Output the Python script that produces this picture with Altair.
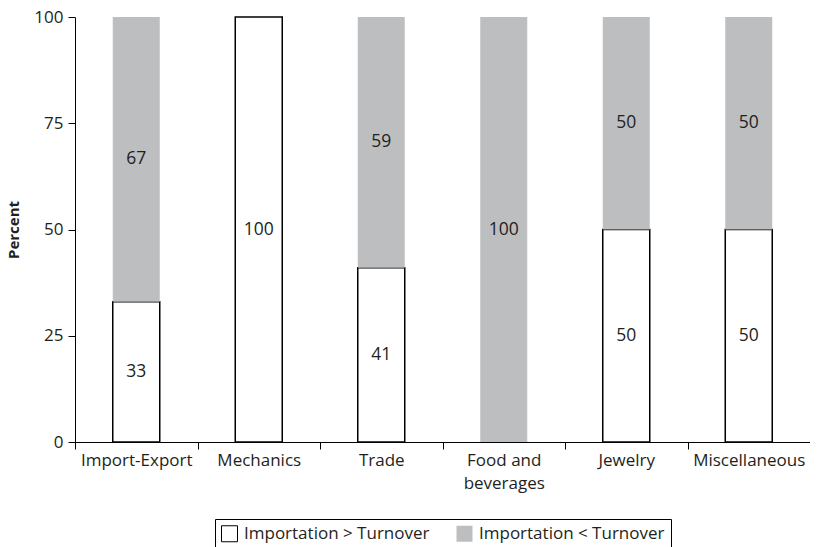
import altair as alt
import pandas as pd

categories = ["Import-Export", "Mechanics", "Trade", "Food and beverages", "Jewelry", "Miscellaneous"]
above = [33, 100, 41, 0, 50, 50]   # Importation > Turnover
below = [67, 0, 59, 100, 50, 50]   # Importation < Turnover
series = ["Importation > Turnover", "Importation < Turnover"]

rows = []
for c, a, b in zip(categories, above, below):
    rows.append({"category": c, "series": series[0], "value": a, "ord": 0})
    rows.append({"category": c, "series": series[1], "value": b, "ord": 1})
df = pd.DataFrame(rows)

FONT = "Open Sans"
TXT = "#231f20"

base = alt.Chart(df).transform_filter("datum.value > 0").transform_stack(
    stack="value", groupby=["category"], as_=["y0", "y1"],
    sort=[alt.SortField("ord", order="ascending")]
).transform_calculate(mid="(datum.y0 + datum.y1) / 2")

xenc = alt.X("category:N", sort=categories, title=None,
             scale=alt.Scale(paddingInner=0, paddingOuter=0),
             axis=alt.Axis(tickBand="extent", labelAngle=0, domainColor="black",
                           tickColor="black", tickSize=7, labelFontSize=17,
                           labelColor=TXT, labelFont=FONT, labelPadding=3,
                           labelLineHeight=23,
                           labelExpr="datum.value == 'Food and beverages' ? ['Food and', 'beverages'] : datum.value"))

bars = base.mark_bar(width=47, strokeWidth=1.5).encode(
    x=xenc,
    y=alt.Y("y0:Q", scale=alt.Scale(domain=[0, 100]), title="Percent",
            axis=alt.Axis(values=[0, 25, 50, 75, 100], grid=False, domainColor="black",
                          tickColor="black", tickSize=7, labelFontSize=17, labelColor=TXT,
                          labelFont=FONT, labelPadding=5, titleFont=FONT, titleFontSize=15,
                          titleFontWeight="bold", titleColor=TXT, titlePadding=12)),
    y2="y1:Q",
    fill=alt.Fill("series:N", scale=alt.Scale(domain=series, range=["#ffffff", "#bdbec0"]),
                  legend=alt.Legend(title=None, orient="none", direction="horizontal",
                                    legendX=140, legendY=502, symbolType="square",
                                    symbolSize=256, labelFontSize=17, labelFont=FONT,
                                    labelColor=TXT, strokeColor="black", padding=6,
                                    columnPadding=24, symbolStrokeWidth=1,
                                    labelOffset=6, labelLimit=0)),
    stroke=alt.Stroke("series:N", scale=alt.Scale(domain=series, range=["black", "transparent"]),
                      legend=None),
)

labels = base.mark_text(fontSize=17.5, font=FONT, color=TXT).encode(
    x=alt.X("category:N", sort=categories),
    y=alt.Y("mid:Q"),
    text=alt.Text("value:Q"),
)

chart = (bars + labels).properties(
    width=735, height=425,
    autosize=alt.AutoSizeParams(type="none"),
    padding={"left": 67, "top": 9, "right": 0, "bottom": 105},
).configure_view(stroke=None).configure_legend(symbolStrokeColor="black")

chart.save("out.html", embed_options={"renderer": "svg", "actions": False})
